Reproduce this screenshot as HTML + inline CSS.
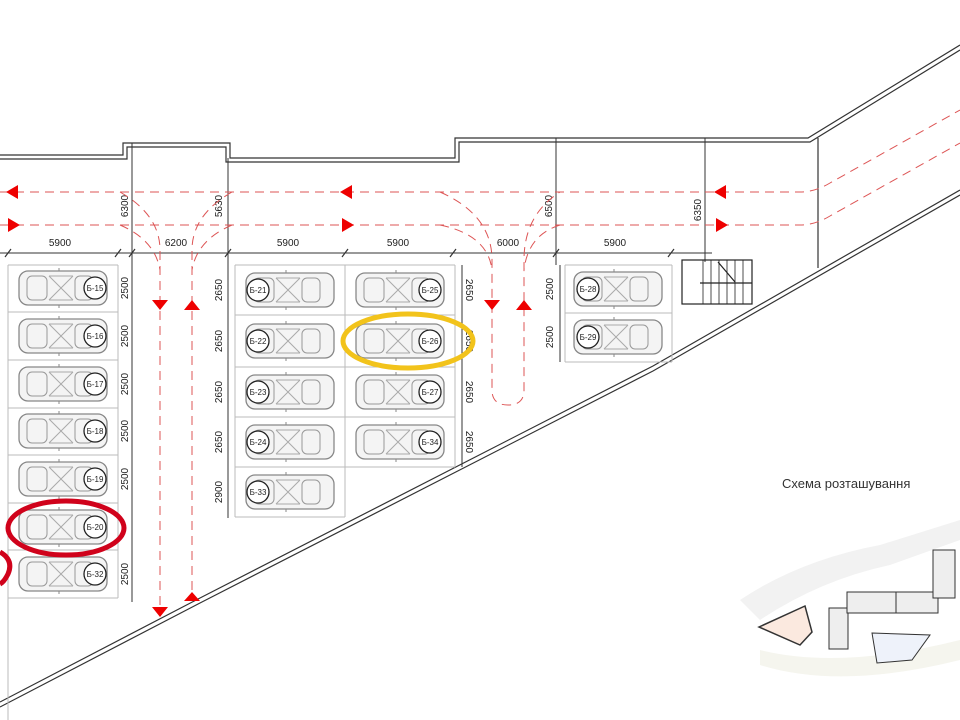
<!DOCTYPE html>
<html><head><meta charset="utf-8"><style>
html,body{margin:0;padding:0;background:#fff;width:960px;height:720px;overflow:hidden}
svg{display:block}
.t{font-family:"Liberation Sans","DejaVu Sans",sans-serif;fill:#222}
</style></head><body>
<svg width="960" height="720" viewBox="0 0 960 720" xmlns="http://www.w3.org/2000/svg">
<defs>
<g id="car">
 <rect x="-44" y="-17" width="88" height="34" rx="9" fill="#f4f4f4" stroke="#888" stroke-width="1.3"/>
 <rect x="-36" y="-12" width="20" height="24" rx="5" fill="none" stroke="#999"/>
 <rect x="12" y="-12" width="18" height="24" rx="5" fill="none" stroke="#999"/>
 <path d="M-14,-12 L10,12 M-14,12 L10,-12 M-14,-12 H10 M-14,12 H10" stroke="#aaa" fill="none"/>
 <path d="M-4,-17 v-3 M-4,17 v3" stroke="#888"/>
</g>
</defs>

<g fill="none" stroke="#333" stroke-width="1.2">
 <polyline points="0,155 123,155 123,143 230,143 230,158 455,158 455,138 808,138 960,45"/>
 <polyline points="0,159 127,159 127,147 226,147 226,162 459,162 459,142 810,142 960,50"/>
 <polyline points="0,702 200,598 653,366 960,190"/>
 <polyline points="0,707 200,603 653,371 960,195"/>
 <line x1="818" y1="138" x2="818" y2="268"/>
</g>
<g stroke="#333" stroke-width="1" fill="none">
 <line x1="132" y1="143" x2="132" y2="602"/>
 <line x1="228" y1="158" x2="228" y2="518"/>
 <line x1="556" y1="138" x2="556" y2="265"/>
 <line x1="705" y1="138" x2="705" y2="262"/>
 <line x1="0" y1="253" x2="712" y2="253"/>
 <line x1="8" y1="265" x2="8" y2="720" stroke="#bbb"/>
</g>
<g stroke="#333" stroke-width="1.2">
 <path d="M5,257 l6,-8 M115,257 l6,-8 M129,257 l6,-8 M225,257 l6,-8 M342,257 l6,-8 M450,257 l6,-8 M553,257 l6,-8 M668,257 l6,-8"/>
</g>
<g class="t" font-size="10" text-anchor="middle">
 <text x="60" y="246">5900</text><text x="176" y="246">6200</text><text x="288" y="246">5900</text>
 <text x="398" y="246">5900</text><text x="508" y="246">6000</text><text x="615" y="246">5900</text>
 <text transform="translate(128,206) rotate(-90)">6300</text>
 <text transform="translate(222,206) rotate(-90)">5630</text>
 <text transform="translate(552,206) rotate(-90)">6500</text>
 <text transform="translate(701,210) rotate(-90)">6350</text>
</g>

<g fill="none" stroke="#d55" stroke-width="1" stroke-dasharray="9,6">
 <path d="M0,192 H800 Q815,192 830,183 L960,110"/>
 <path d="M0,225 H800 Q815,225 830,216 L960,143"/>
 <path d="M120,192 Q160,215 160,250 V612"/>
 <path d="M232,192 Q192,215 192,250 V598"/>
 <path d="M120,225 Q155,240 160,270"/>
 <path d="M232,225 Q197,240 192,270"/>
 <path d="M440,192 Q492,215 492,260 V390 Q492,405 508,405 Q524,405 524,390 V260 Q524,215 560,192"/>
 <path d="M440,225 Q488,235 492,270 M560,225 Q528,235 524,270"/>
</g>
<g fill="#e00">
 <path d="M6,192 l12,-7 v14z M340,192 l12,-7 v14z M714,192 l12,-7 v14z"/>
 <path d="M20,225 l-12,-7 v14z M354,225 l-12,-7 v14z M728,225 l-12,-7 v14z"/>
 <path d="M152,300 h16 l-8,10z M184,310 h16 l-8,-10z M484,300 h16 l-8,10z M516,310 h16 l-8,-10z"/>
 <path d="M152,607 h16 l-8,10z M184,601 h16 l-8,-9z"/>
</g>

<g stroke="#bbb" fill="none" stroke-width="1">
 <line x1="8" y1="265" x2="118" y2="265"/><line x1="118" y1="265" x2="118" y2="598"/>
 <path d="M8,312H118M8,360H118M8,408H118M8,455H118M8,503H118M8,550H118M8,598H118"/>
 <path d="M235,265V517M345,265V517M455,265V467M235,265H455M235,315H455M235,367H455M235,417H455M235,467H455M235,517H345"/>
 <path d="M565,265V362M672,265V362M565,265H672M565,313H672M565,362H672"/>
</g>
<g>
 <use href="#car" x="63" y="288"/><use href="#car" x="63" y="336"/><use href="#car" x="63" y="384"/>
 <use href="#car" x="63" y="431"/><use href="#car" x="63" y="479"/><use href="#car" x="63" y="527"/><use href="#car" x="63" y="574"/>
 <use href="#car" x="290" y="290"/><use href="#car" x="290" y="341"/><use href="#car" x="290" y="392"/><use href="#car" x="290" y="442"/><use href="#car" x="290" y="492"/>
 <use href="#car" x="400" y="290"/><use href="#car" x="400" y="341"/><use href="#car" x="400" y="392"/><use href="#car" x="400" y="442"/>
 <use href="#car" x="618" y="289"/><use href="#car" x="618" y="337"/>
</g>
<g fill="#fff" stroke="#222" stroke-width="1.3">
 <circle cx="95" cy="288" r="11"/><circle cx="95" cy="336" r="11"/><circle cx="95" cy="384" r="11"/><circle cx="95" cy="431" r="11"/><circle cx="95" cy="479" r="11"/><circle cx="95" cy="527" r="11"/><circle cx="95" cy="574" r="11"/>
 <circle cx="258" cy="290" r="11"/><circle cx="258" cy="341" r="11"/><circle cx="258" cy="392" r="11"/><circle cx="258" cy="442" r="11"/><circle cx="258" cy="492" r="11"/>
 <circle cx="430" cy="290" r="11"/><circle cx="430" cy="341" r="11"/><circle cx="430" cy="392" r="11"/><circle cx="430" cy="442" r="11"/>
 <circle cx="588" cy="289" r="11"/><circle cx="588" cy="337" r="11"/>
</g>
<g class="t" font-size="8" text-anchor="middle">
 <text x="95" y="291">Б-15</text><text x="95" y="339">Б-16</text><text x="95" y="387">Б-17</text><text x="95" y="434">Б-18</text><text x="95" y="482">Б-19</text><text x="95" y="530">Б-20</text><text x="95" y="577">Б-32</text>
 <text x="258" y="293">Б-21</text><text x="258" y="344">Б-22</text><text x="258" y="395">Б-23</text><text x="258" y="445">Б-24</text><text x="258" y="495">Б-33</text>
 <text x="430" y="293">Б-25</text><text x="430" y="344">Б-26</text><text x="430" y="395">Б-27</text><text x="430" y="445">Б-34</text>
 <text x="588" y="292">Б-28</text><text x="588" y="340">Б-29</text>
</g>
<g stroke="#333" fill="none">
 <line x1="462" y1="265" x2="462" y2="467"/><line x1="560" y1="265" x2="560" y2="362"/>
</g>
<g class="t" font-size="10" text-anchor="middle">
 <text transform="translate(128,288) rotate(-90)">2500</text><text transform="translate(128,336) rotate(-90)">2500</text>
 <text transform="translate(128,384) rotate(-90)">2500</text><text transform="translate(128,431) rotate(-90)">2500</text>
 <text transform="translate(128,479) rotate(-90)">2500</text><text transform="translate(128,574) rotate(-90)">2500</text>
 <text transform="translate(222,290) rotate(-90)">2650</text><text transform="translate(222,341) rotate(-90)">2650</text>
 <text transform="translate(222,392) rotate(-90)">2650</text><text transform="translate(222,442) rotate(-90)">2650</text>
 <text transform="translate(222,492) rotate(-90)">2900</text>
 <text transform="translate(466,290) rotate(90)">2650</text><text transform="translate(466,341) rotate(90)">2650</text>
 <text transform="translate(466,392) rotate(90)">2650</text><text transform="translate(466,442) rotate(90)">2650</text>
 <text transform="translate(553,289) rotate(-90)">2500</text><text transform="translate(553,337) rotate(-90)">2500</text>
</g>

<g stroke="#222" fill="none" stroke-width="1.2">
 <rect x="682" y="260" width="70" height="44"/>
 <line x1="700" y1="283" x2="752" y2="283"/>
 <path d="M703,260V304M711,260V304M719,260V304M727,260V304M735,260V304M743,260V304" stroke-width="0.8"/>
 <line x1="718" y1="262" x2="735" y2="282"/>
</g>

<ellipse cx="66" cy="528" rx="58" ry="27" fill="none" stroke="#d0021b" stroke-width="5"/>
<path d="M0,552 Q14,560 8,574 Q4,582 0,584" fill="none" stroke="#d0021b" stroke-width="5"/>
<ellipse cx="408" cy="341" rx="65" ry="27" fill="none" stroke="#f2c31b" stroke-width="5"/>

<text class="t" x="782" y="488" font-size="13" style="fill:#333">Схема розташування</text>
<g>
 <path d="M740,600 Q800,560 880,545 L960,520 L960,540 L890,565 Q820,580 760,620Z" fill="#f2f2f2"/>
 <path d="M760,650 Q840,670 960,640 L960,660 Q840,690 760,665Z" fill="#f5f5ee"/>
 <path d="M759,627 L805,606 L812,632 L800,645Z" fill="#fbe9df" stroke="#333" stroke-width="1.5"/>
 <g fill="#eee" stroke="#333">
  <rect x="829" y="608" width="19" height="41"/><rect x="847" y="592" width="49" height="21"/><rect x="896" y="592" width="42" height="21"/><rect x="933" y="550" width="22" height="48"/>
 </g>
 <path d="M872,633 L930,635 L912,660 L877,663Z" fill="#eef2fa" stroke="#333"/>
</g>
</svg>
</body></html>
